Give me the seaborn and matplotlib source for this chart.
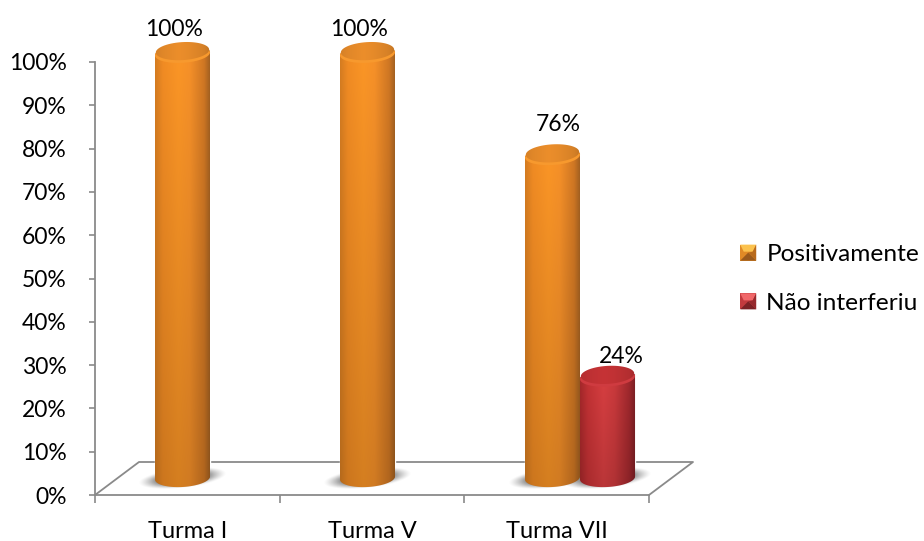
import numpy as np
import pandas as pd
import matplotlib
matplotlib.use("Agg")
import matplotlib.pyplot as plt
import seaborn as sns
from matplotlib.patches import PathPatch, Polygon, Rectangle
from matplotlib.path import Path
from matplotlib.legend_handler import HandlerBase

categories = ["Turma I", "Turma V", "Turma VII"]
positivamente = [100, 100, 76]
nao_interferiu = [0, 0, 24]
series_names = ["Positivamente", "Não interferiu"]
y_ticks = list(range(0, 101, 10))

W, H = 924, 541
AXIS_GRAY = "#8a8a8a"
sns.set_theme(style="white")
plt.rcParams["font.family"] = ["Lato", "DejaVu Sans"]
FONT_SIZE = 16.5

table = pd.DataFrame({
    "turma": categories * 2,
    "serie": [series_names[0]] * 3 + [series_names[1]] * 3,
    "valor": positivamente + nao_interferiu,
})

fig = plt.figure(figsize=(W / 100, H / 100), dpi=100, facecolor="white")


def px_axes(left, right, top, bottom):
    return fig.add_axes([left / W, 1 - bottom / H, (right - left) / W, (bottom - top) / H])


# Front plane: value axis, category axis and the floor outline
ax = px_axes(95, 649, 62, 495)
ax.set_xlim(-0.5, 2.5)
ax.set_ylim(0, 100)
ax.patch.set_alpha(0)
for side in ("top", "right"):
    ax.spines[side].set_visible(False)
for side in ("left", "bottom"):
    ax.spines[side].set_color(AXIS_GRAY)
    ax.spines[side].set_linewidth(1.3)
ax.set_yticks(y_ticks)
ax.set_yticklabels([f"{v}%" for v in y_ticks], fontsize=FONT_SIZE, color="black")
ax.set_xticks(np.arange(-0.5, 3, 1))
ax.set_xticklabels([])
ax.set_xticks(range(3), minor=True)
ax.set_xticklabels(categories, minor=True, fontsize=17, color="black")
ax.tick_params(axis="y", which="major", left=True, length=4.5, width=1.2, color=AXIS_GRAY, pad=16)
ax.tick_params(axis="x", which="major", bottom=True, length=6, width=1.2, color=AXIS_GRAY)
ax.tick_params(axis="x", which="minor", bottom=False, pad=14.6)

depth_x, depth_y = 44 / 554, 33 / 433
floor_x = [0, depth_x, 1 + depth_x, 1]
floor_y = [0, depth_y, depth_y, 0]
ax.plot(floor_x, floor_y, transform=ax.transAxes, color=AXIS_GRAY, lw=1.3, clip_on=False, zorder=1)

# Bars live half a floor depth behind the front plane; the axes reach past
# both ends of the value range so the round caps are not cut by its frame
Y_UNIT = 100 / 426
X_UNIT = 3 / 555
PAD_PX = 30
bx = px_axes(117.5, 672.5, 52 - PAD_PX, 478 + PAD_PX)
sns.barplot(
    data=table, x="turma", y="valor", hue="serie", hue_order=series_names,
    palette=["#f08a24", "#c8343a"], width=0.595, gap=0, dodge=True,
    saturation=1, legend=False, ax=bx,
)
Y_RANGE = (-PAD_PX * Y_UNIT, 100 + PAD_PX * Y_UNIT)
bx.set_xlim(-0.5, 2.5)
bx.set_ylim(*Y_RANGE)
bx.axis("off")

RY = 9 * Y_UNIT
SLOPE = (3 * Y_UNIT) / (55 * X_UNIT)

palettes = {
    series_names[0]: dict(
        stops=[(0.84, 0.49, 0.13), (0.95, 0.55, 0.14), (0.99, 0.59, 0.15),
               (0.97, 0.57, 0.16), (0.82, 0.47, 0.14), (0.62, 0.37, 0.13)],
        cap=(0.88, 0.53, 0.16), rim=(0.97, 0.60, 0.18)),
    series_names[1]: dict(
        stops=[(0.66, 0.16, 0.17), (0.78, 0.20, 0.21), (0.86, 0.25, 0.26),
               (0.81, 0.23, 0.24), (0.64, 0.16, 0.18), (0.48, 0.12, 0.14)],
        cap=(0.74, 0.19, 0.20), rim=(0.81, 0.23, 0.25)),
}
stop_pos = [0, 0.14, 0.42, 0.62, 0.88, 1]


def ellipse_points(cx, cy, half_w, t0=0.0, t1=2 * np.pi, n=60):
    t = np.linspace(t0, t1, n)
    x = cx + half_w * np.cos(t)
    y = cy + RY * np.sin(t) + SLOPE * (x - cx)
    return np.column_stack([x, y])


def gradient_image(stops, n=128, fade=0.16):
    stops = np.array(stops)
    u = np.linspace(0, 1, n)
    row = np.column_stack([np.interp(u, stop_pos, stops[:, i]) for i in range(3)])
    v = np.linspace(0, 1, n)[:, None, None]  # 0 at the top of the image
    shade = np.interp(v, [0, 1], [1.0, 1.0 - fade])
    return np.clip(row[None, :, :] * shade, 0, 1)


def draw_shadow(cx, half_w):
    xs = np.linspace(cx - 2 * half_w, cx + 2 * half_w, 120)
    ys = np.linspace(-4 * RY, 4 * RY, 80)
    gx, gy = np.meshgrid(xs, ys)
    gy2 = gy - 2 * SLOPE * (gx - cx)
    r = np.sqrt(((gx - cx) / (1.42 * half_w)) ** 2 + (gy2 / (1.0 * RY)) ** 2)
    rgba = np.zeros(gx.shape + (4,))
    rgba[..., :3] = 0.45
    rgba[..., 3] = np.clip((1.12 - r) / 0.5, 0, 1) ** 1.3 * 0.9
    bx.imshow(rgba, extent=(xs[0], xs[-1], ys[0], ys[-1]), origin="lower",
              aspect="auto", zorder=3, interpolation="bilinear")


def draw_cylinder(patch, name):
    left, w, height = patch.get_x(), patch.get_width(), patch.get_height()
    cx, half_w = left + w / 2, w / 2
    pal = palettes[name]
    draw_shadow(cx, half_w)

    bottom_arc = ellipse_points(cx, 0, half_w, np.pi, 2 * np.pi)
    top_right = cx + half_w, height + SLOPE * half_w
    top_left = cx - half_w, height - SLOPE * half_w
    body = np.vstack([bottom_arc, top_right, top_left, bottom_arc[:1]])
    body_path = PathPatch(Path(body), transform=bx.transData, fc="none", ec="none")
    bx.add_patch(body_path)
    img = bx.imshow(gradient_image(pal["stops"]),
                    extent=(cx - half_w, cx + half_w, -2 * RY, height + 2 * RY),
                    aspect="auto", zorder=4, interpolation="bilinear")
    img.set_clip_path(body_path)

    # Lit rim under the top face, then the top face itself
    rim = Polygon(ellipse_points(cx, height - 0.2 * RY, half_w), closed=True,
                  fc=pal["rim"], ec="none", zorder=5)
    bx.add_patch(rim)
    cap_clip = PathPatch(Path(ellipse_points(cx, height + 0.1 * RY, half_w * 0.97)),
                         transform=bx.transData, fc="none", ec="none")
    bx.add_patch(cap_clip)
    cap_stops = [np.array(pal["cap"]) * f for f in (0.95, 1.0, 1.05, 1.02, 0.95, 0.85)]
    cap_img = bx.imshow(gradient_image(cap_stops, fade=0),
                        extent=(cx - half_w, cx + half_w, height - 2 * RY, height + 2 * RY),
                        aspect="auto", zorder=6, interpolation="bilinear")
    cap_img.set_clip_path(cap_clip)


# seaborn emits one patch per bar, grouped by hue
bars = list(bx.patches)
order = [series_names[0]] * 3 + [series_names[1]] * 3
for patch, name in zip(bars, order):
    if patch.get_height() > 0:
        draw_cylinder(patch, name)
    else:
        patch.set_visible(False)
bx.set_xlim(-0.5, 2.5)
bx.set_ylim(*Y_RANGE)

# Value labels sit above each top face; offsets in points
label_shift = {(0, 0): (-6, 9), (0, 1): (-6, 9), (0, 2): (4.5, 13.5), (1, 2): (10, 6.5)}
for (s, c), (dx, dy) in label_shift.items():
    patch = bars[s * 3 + c]
    v = patch.get_height()
    bx.annotate(f"{v:.0f}%", (patch.get_x() + patch.get_width() / 2, v),
                xytext=(dx, dy), textcoords="offset points",
                ha="center", va="bottom", fontsize=FONT_SIZE, color="black",
                annotation_clip=False, zorder=8)


class BevelHandler(HandlerBase):
    """Square swatch with four bevelled faces."""

    def __init__(self, light, mid, side, dark):
        super().__init__()
        self.faces = (light, mid, side, dark)

    def create_artists(self, legend, orig_handle, x0, y0, width, height, fontsize, trans):
        s = 16 * 0.72
        x = x0 + width - s
        y = y0 + (height - s) / 2
        c = (x + s / 2, y + s / 2)
        tl, tr, br, bl = (x, y + s), (x + s, y + s), (x + s, y), (x, y)
        ins = s * 0.2
        il = (c[0] - ins * 1.4, c[1] + ins * 0.3)
        ir = (c[0] + ins * 1.4, c[1] + ins * 0.3)
        light, mid, side, dark = self.faces
        polys = [
            ([bl, br, tr, tl], mid),
            ([tl, tr, ir, il], light),
            ([bl, br, c], dark),
            ([br, tr, ir, c], side),
        ]
        return [Polygon(p, closed=True, fc=col, ec="none", transform=trans) for p, col in polys]


handles = [Rectangle((0, 0), 1, 1), Rectangle((0, 0), 1, 1)]
handler_map = {
    handles[0]: BevelHandler("#fbc24e", "#e08a26", "#b86a1c", "#9a5a1c"),
    handles[1]: BevelHandler("#f0686a", "#c23a3e", "#962a2e", "#7c2226"),
}
fig.legend(handles, series_names, handler_map=handler_map, frameon=False,
           loc="center left", bbox_to_anchor=(733 / W, 1 - 279 / H),
           fontsize=17.6, labelspacing=1.13, handlelength=0.95, handletextpad=0.42,
           labelcolor="black", borderpad=0, borderaxespad=0)

fig.savefig("out.png", dpi=100, facecolor="white")
